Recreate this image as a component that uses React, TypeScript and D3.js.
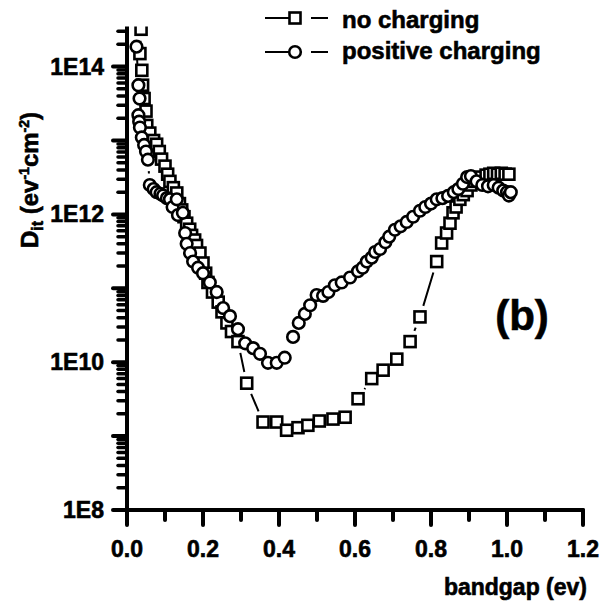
import React from "react";
import * as d3 from "d3";

// bandgap (ev) and Dit values
const noChargingX = [0.037,0.034,0.039,0.041,0.045,0.05,0.052,0.06,0.07,0.078,0.085,0.091,0.1,0.107,0.113,0.122,0.131,0.138,0.144,0.15,0.157,0.165,0.17,0.178,0.183,0.192,0.2,0.207,0.213,0.225,0.24,0.25,0.263,0.275,0.292,0.315,0.358,0.394,0.42,0.45,0.476,0.506,0.542,0.574,0.608,0.644,0.674,0.71,0.745,0.771,0.815,0.828,0.841,0.85,0.858,0.866,0.876,0.885,0.895,0.905,0.915,0.93,0.945,0.955,0.965,0.975,0.985,0.995,1.005];
const noChargingY = [3.2e14,1.5e14,8.9e13,5.6e13,3.7e13,2.5e13,1.6e13,1.26e13,1.0e13,8.9e12,7.1e12,5.6e12,4.5e12,3.5e12,2.8e12,2.3e12,1.95e12,1.4e12,1.15e12,9.3e11,7.6e11,6.3e11,5.2e11,4.5e11,3.8e11,3.0e11,2.2e11,1.6e11,1.2e11,8.9e10,6.5e10,4.8e10,3.4e10,2.6e10,1.9e10,5.2e9,1.55e9,1.55e9,1.2e9,1.3e9,1.4e9,1.6e9,1.7e9,1.8e9,3.2e9,6.0e9,7.8e9,1.1e10,1.9e10,4.1e10,2.3e11,4.1e11,5.6e11,7.6e11,1.05e12,1.26e12,1.6e12,1.85e12,2.1e12,2.5e12,2.8e12,3.2e12,3.4e12,3.5e12,3.6e12,3.5e12,3.6e12,3.5e12,3.5e12];

const positiveX = [0.025,0.03,0.033,0.03,0.032,0.034,0.039,0.045,0.05,0.055,0.06,0.07,0.078,0.088,0.095,0.105,0.113,0.12,0.131,0.134,0.147,0.153,0.157,0.166,0.174,0.187,0.2,0.218,0.236,0.253,0.271,0.292,0.311,0.332,0.35,0.371,0.394,0.415,0.437,0.452,0.468,0.482,0.499,0.516,0.53,0.547,0.565,0.587,0.608,0.62,0.631,0.644,0.653,0.666,0.68,0.69,0.705,0.72,0.736,0.753,0.771,0.785,0.8,0.815,0.83,0.845,0.86,0.872,0.884,0.895,0.905,0.92,0.935,0.95,0.965,0.978,0.99,1.0,1.005,1.01];
const positiveY = [1.86e14,5.6e13,3.7e13,2.2e13,1.8e13,1.5e13,1.1e13,8.7e12,7.1e12,5.5e12,2.5e12,2.2e12,2.0e12,1.9e12,1.8e12,1.66e12,1.6e12,1.26e12,1.6e12,9.8e11,1.05e12,5.6e11,4.0e11,3.0e11,2.3e11,1.9e11,1.6e11,1.2e11,8.9e10,5.4e10,4.2e10,2.8e10,1.8e10,1.55e10,1.3e10,9.8e9,9.8e9,1.15e10,2.2e10,3.4e10,4.5e10,5.9e10,8.1e10,7.9e10,8.9e10,1.1e11,1.2e11,1.4e11,1.7e11,1.9e11,2.3e11,2.6e11,3.1e11,3.4e11,4.2e11,5.0e11,6.2e11,6.9e11,7.9e11,9.3e11,1.12e12,1.26e12,1.4e12,1.6e12,1.66e12,1.78e12,2.0e12,2.2e12,2.6e12,3.2e12,3.3e12,2.8e12,2.5e12,2.4e12,2.5e12,2.3e12,2.1e12,2.0e12,1.8e12,2.0e12];

const seriesNames = ["no charging", "positive charging"];
const xMajorTicks = [0, 0.2, 0.4, 0.6, 0.8, 1.0, 1.2];
const xMinorTicks = [0.1, 0.3, 0.5, 0.7, 0.9, 1.1];
const yDecades = [1e8, 1e9, 1e10, 1e11, 1e12, 1e13, 1e14];
const yLabels = ["1E8", "1E10", "1E12", "1E14"];
const yLabelValues = [1e8, 1e10, 1e12, 1e14];

const FONT = "'Liberation Sans', Arial, Helvetica, sans-serif";

export default function App() {
  const W = 607, H = 603;
  const left = 127, right = 583, top = 26.5, bottom = 510;
  const x = d3.scaleLinear().domain([0, 1.2]).range([left, right]);
  const yTop = 3.5e14;
  const y = d3.scaleLog().domain([1e8, yTop]).range([bottom, bottom - Math.log10(yTop / 1e8) * 73.9]);

  const yMinor: number[] = [];
  yDecades.forEach((d) => {
    for (let k = 2; k <= 9; k++) if (d * k <= yTop) yMinor.push(d * k);
  });

  const gap = 11.5;
  const segments = (xs: number[], ys: number[]) => {
    const segs: string[] = [];
    for (let i = 0; i < xs.length - 1; i++) {
      const x1 = x(xs[i]), y1 = y(ys[i]), x2 = x(xs[i + 1]), y2 = y(ys[i + 1]);
      const dx = x2 - x1, dy = y2 - y1;
      const L = Math.hypot(dx, dy);
      if (L <= 2 * gap) continue;
      const ux = dx / L, uy = dy / L;
      segs.push(`M${x1 + ux * gap},${y1 + uy * gap}L${x2 - ux * gap},${y2 - uy * gap}`);
    }
    return segs.join("");
  };

  const sq = 11;
  const cr = 5.8;
  const ms = 2.6;
  const txtStroke = { stroke: "#000", strokeWidth: 0.6 };

  return (
    <svg width={W} height={H} style={{ position: "absolute", left: 0, top: 0, background: "#fff" }} fontFamily={FONT} fontWeight="bold">
      <defs>
        <clipPath id="plotClip">
          <rect x={left - 20} y={top} width={right - left + 40} height={bottom - top + 20} />
        </clipPath>
      </defs>
      <rect x={0} y={0} width={W} height={H} fill="#fff" />

      {/* data */}
      <g clipPath="url(#plotClip)">
        <path d={segments(noChargingX, noChargingY)} stroke="#000" strokeWidth={2} fill="none" />
        <path d={segments(positiveX, positiveY)} stroke="#000" strokeWidth={2} fill="none" />
        {noChargingX.map((v, i) => (
          <rect key={"s" + i} x={x(v) - sq / 2} y={y(noChargingY[i]) - sq / 2} width={sq} height={sq} fill="#fff" stroke="#000" strokeWidth={ms} />
        ))}
        {positiveX.map((v, i) => (
          <ellipse key={"c" + i} cx={x(v)} cy={y(positiveY[i])} rx={cr} ry={cr} fill="#fff" stroke="#000" strokeWidth={ms} />
        ))}
      </g>

      {/* axes */}
      <line x1={left} y1={top} x2={left} y2={bottom} stroke="#000" strokeWidth={4} />
      <line x1={left} y1={bottom} x2={right} y2={bottom} stroke="#000" strokeWidth={4} strokeLinecap="round" />
      {xMajorTicks.map((t) => (
        <line key={"xM" + t} x1={x(t)} y1={bottom} x2={x(t)} y2={bottom + 15} stroke="#000" strokeWidth={4} strokeLinecap="round" />
      ))}
      {xMinorTicks.map((t) => (
        <line key={"xm" + t} x1={x(t)} y1={bottom} x2={x(t)} y2={bottom + 10} stroke="#000" strokeWidth={4} strokeLinecap="round" />
      ))}
      {xMajorTicks.map((t) => (
        <text key={"xl" + t} x={x(t)} y={557} textAnchor="middle" fontSize={23} {...txtStroke}>{d3.format(".1f")(t)}</text>
      ))}
      {yDecades.map((t) => (
        <line key={"yM" + t} x1={left} y1={y(t)} x2={left - 14} y2={y(t)} stroke="#000" strokeWidth={4} strokeLinecap="round" />
      ))}
      {yMinor.map((t, i) => (
        <line key={"ym" + i} x1={left} y1={y(t)} x2={left - 9} y2={y(t)} stroke="#000" strokeWidth={3.5} strokeLinecap="round" />
      ))}
      {yLabels.map((l, i) => (
        <text key={"yl" + l} x={104} y={y(yLabelValues[i]) + 8} textAnchor="end" fontSize={23} {...txtStroke}>{l}</text>
      ))}

      {/* axis titles */}
      <text transform="translate(38,180) rotate(-90)" textAnchor="middle" fontSize={24} {...txtStroke}>
        D<tspan fontSize={16} dy={5}>it</tspan>
        <tspan dy={-5}> (ev</tspan>
        <tspan fontSize={14} dy={-9}>-1</tspan>
        <tspan dy={9}>cm</tspan>
        <tspan fontSize={14} dy={-9}>-2</tspan>
        <tspan dy={9}>)</tspan>
      </text>
      <text x={587} y={595} textAnchor="end" fontSize={23} {...txtStroke}>bandgap (ev)</text>
      <text x={522} y={330} textAnchor="middle" fontSize={42} {...txtStroke}>(b)</text>

      {/* legend */}
      <g>
        <line x1={265} y1={18} x2={289} y2={18} stroke="#000" strokeWidth={2} />
        <rect x={295 - sq / 2} y={18 - sq / 2} width={sq} height={sq} fill="#fff" stroke="#000" strokeWidth={ms} />
        <line x1={311} y1={18} x2={328} y2={18} stroke="#000" strokeWidth={2} />
        <text x={342} y={28} fontSize={24} {...txtStroke}>{seriesNames[0]}</text>
        <line x1={265} y1={52} x2={289} y2={52} stroke="#000" strokeWidth={2} />
        <ellipse cx={295} cy={52} rx={cr} ry={cr} fill="#fff" stroke="#000" strokeWidth={ms} />
        <line x1={311} y1={52} x2={328} y2={52} stroke="#000" strokeWidth={2} />
        <text x={342} y={59} fontSize={24} {...txtStroke}>{seriesNames[1]}</text>
      </g>
    </svg>
  );
}
